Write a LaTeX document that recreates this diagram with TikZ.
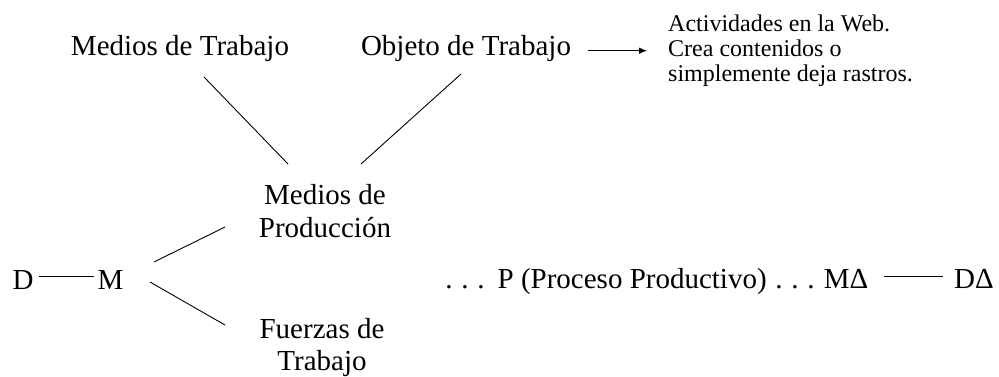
\documentclass[tikz,border=0pt]{standalone}
\usepackage{fontspec}
\setmainfont{Liberation Serif}
\usetikzlibrary{arrows.meta}
\begin{document}
\begin{tikzpicture}[x=1pt,y=-1pt,
  lbl/.style={inner sep=0pt,anchor=base,font=\fontsize{29}{33}\selectfont},
  note/.style={inner sep=0pt,anchor=north west,align=left,font=\fontsize{24}{25}\selectfont},
  conn/.style={line width=0.9pt},
  arr/.style={line width=0.9pt,-{Latex[length=8pt,width=6.5pt]}}]
\useasboundingbox (0,0) rectangle (999,376);
% top row
\node[lbl] (mt) at (180,55) {Medios de Trabajo};
\node[lbl] (ot) at (466,55) {Objeto de Trabajo};
\node[note] (act) at (668,14.5) {Actividades en la Web.\\Crea contenidos o\\simplemente deja rastros.};
% middle
\node[lbl] (mp1) at (325,204) {Medios de};
\node[lbl] (mp2) at (325,237) {Producción};
% bottom
\node[lbl] (fz1) at (322,338) {Fuerzas de};
\node[lbl] (fz2) at (322,370) {Trabajo};
% main row
\node[lbl] (D) at (23,289) {D};
\node[lbl] (M) at (110.5,289) {M};
\node[lbl] (P) at (630,288) {.\hspace{0.3em}.\hspace{0.3em}.\hspace{0.45em}P (Proceso Productivo)\hspace{0.3em}.\hspace{0.3em}.\hspace{0.3em}.};
\node[lbl] (MD) at (846,288) {MΔ};
\node[lbl] (DD) at (974,288) {DΔ};
% connector end points
\coordinate (a1) at (588,50.7);
\coordinate (a2) at (647,50.7);
\coordinate (l1a) at (204,77);
\coordinate (l1b) at (288,164);
\coordinate (l2a) at (461,74);
\coordinate (l2b) at (361,164);
\coordinate (dm1) at (39,276);
\coordinate (dm2) at (94,276);
\coordinate (u1) at (154,262);
\coordinate (u2) at (225,227);
\coordinate (w1) at (150,282);
\coordinate (w2) at (225,325);
\coordinate (r1) at (884,276);
\coordinate (r2) at (943,276);
% connectors
\draw[arr] (a1) -- (a2);
\draw[conn] (l1a) -- (l1b);
\draw[conn] (l2a) -- (l2b);
\draw[conn] (dm1) -- (dm2);
\draw[conn] (u1) -- (u2);
\draw[conn] (w1) -- (w2);
\draw[conn] (r1) -- (r2);
\end{tikzpicture}
\end{document}
